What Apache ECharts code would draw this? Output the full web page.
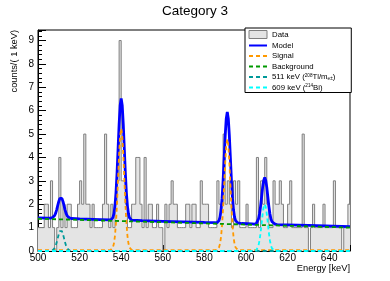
<!DOCTYPE html>
<html><head><meta charset="utf-8">
<script src="https://cdn.jsdelivr.net/npm/echarts@6/dist/echarts.min.js"></script>
<style>html,body{margin:0;padding:0;background:#fff}#c{width:390px;height:281px}</style>
</head><body><div id="c"></div>
<script>
// ---- data ----
const chartTitle = 'Category 3';
const firstBin = 500;          // keV, low edge of first bin
const binWidth = 1;            // keV
const counts = [
  1,1,1,2,2,1,3,1,0,1,
  4,1,2,1,2,2,1,1,1,2,
  3,2,5,2,2,1,2,1,1,1,
  1,2,5,2,1,2,1,2,3,9,
  3,3,2,1,1,2,2,4,4,2,
  1,4,1,2,2,1,1,2,1,1,
  0,2,1,2,3,2,2,1,1,1,
  1,2,2,1,2,2,1,1,3,2,
  2,2,1,1,1,1,3,2,2,5,
  2,3,2,1,3,2,3,1,1,1,
  2,1,1,1,1,4,1,3,2,4,
  2,1,1,3,2,2,3,2,1,1,
  2,3,1,1,1,1,1,5,1,1,
  0,1,2,1,1,1,1,2,1,1,
  1,1,3,1,1,1,0,1,1,2
];
const modelCurve = [
  [500,1.42],[505,1.41],[506,1.405],[507,1.43],[507.5,1.46],[508,1.52],[508.5,1.62],[509,1.77],[509.5,1.95],
  [510,2.12],[510.5,2.25],[511,2.30],[511.5,2.25],[512,2.12],[512.5,1.95],[513,1.76],[513.5,1.61],[514,1.51],
  [515,1.42],[516,1.39],[520,1.37],[530,1.345],[535,1.33],[535.5,1.36],[536,1.43],[536.5,1.60],[537,1.93],
  [537.5,2.50],[538,3.33],[538.5,4.37],[539,5.42],[539.5,6.22],[540,6.52],[540.5,6.22],[541,5.42],[541.5,4.37],
  [542,3.32],[542.5,2.49],[543,1.92],[543.5,1.59],[544,1.42],[544.5,1.35],[545,1.32],[550,1.295],[560,1.27],
  [570,1.245],[580,1.22],[585,1.21],[586,1.20],[586.5,1.23],[587,1.30],[587.5,1.45],[588,1.75],[588.5,2.26],
  [589,3.02],[589.5,3.97],[590,4.93],[590.5,5.66],[591,5.94],[591.5,5.66],[592,4.93],[592.5,3.97],[593,3.02],
  [593.5,2.26],[594,1.75],[594.5,1.45],[595,1.30],[595.5,1.23],[596,1.20],[598,1.175],[603,1.16],[604,1.145],
  [605,1.18],[605.5,1.25],[606,1.37],[606.5,1.59],[607,1.91],[607.5,2.31],[608,2.72],[608.5,3.02],[609,3.14],
  [609.5,3.02],[610,2.72],[610.5,2.31],[611,1.91],[611.5,1.59],[612,1.37],[612.5,1.25],[613,1.18],[614,1.145],
  [615,1.13],[630,1.095],[650,1.04]
];
const signalCurve = [
  [500,0.04],[534,0.04],[535,0.05],[535.5,0.08],[536,0.15],[536.5,0.32],[537,0.65],[537.5,1.22],[538,2.05],
  [538.5,3.09],[539,4.14],[539.5,4.94],[540,5.24],[540.5,4.94],[541,4.14],[541.5,3.09],[542,2.05],[542.5,1.22],
  [543,0.65],[543.5,0.32],[544,0.15],[544.5,0.08],[545,0.05],[546,0.04],[585,0.04],[586,0.05],[586.5,0.08],
  [587,0.15],[587.5,0.30],[588,0.60],[588.5,1.11],[589,1.87],[589.5,2.82],[590,3.78],[590.5,4.51],[591,4.79],
  [591.5,4.51],[592,3.78],[592.5,2.82],[593,1.87],[593.5,1.11],[594,0.60],[594.5,0.30],[595,0.15],[595.5,0.08],
  [596,0.05],[597,0.04],[650,0.04]
];
const backgroundCurve = [[500,1.38],[560,1.23],[600,1.13],[650,1.00]];
const tl208Curve = [
  [500,0],[505,0],[506,0.004],[507,0.026],[507.5,0.06],[508,0.12],[508.5,0.22],[509,0.37],[509.5,0.55],[510,0.72],
  [510.5,0.85],[511,0.90],[511.5,0.85],[512,0.72],[512.5,0.55],[513,0.37],[513.5,0.22],[514,0.12],[514.5,0.06],
  [515,0.026],[516,0.004],[517,0],[650,0]
];
const bi214Curve = [
  [500,0],[603,0],[604,0.005],[605,0.04],[605.5,0.11],[606,0.23],[606.5,0.45],[607,0.77],[607.5,1.17],[608,1.58],
  [608.5,1.88],[609,2.00],[609.5,1.88],[610,1.58],[610.5,1.17],[611,0.77],[611.5,0.45],[612,0.23],[612.5,0.11],
  [613,0.04],[614,0.005],[615,0],[650,0]
];
const xTickLabels = [500,520,540,560,580,600,620,640];
const yTickLabels = [0,1,2,3,4,5,6,7,8,9];
const legendNames = ['Data','Model','Signal','Background','511 keV (208Tl/me±)','609 keV (214Bi)'];
const legendRich = {
  '511 keV (208Tl/me±)': '{t|511 keV (}{sup|208}{t|Tl/m}{sub|e±}{t|)}',
  '609 keV (214Bi)': '{t|609 keV (}{sup|214}{t|Bi)}'
};

// ---- build ----
const histStep = counts.map((c, i) => [firstBin + i * binWidth, c]);
histStep.push([firstBin + counts.length * binWidth, counts[counts.length - 1]]);

const FONT = 'Liberation Sans';
const chart = echarts.init(document.getElementById('c'), null, {renderer: 'canvas'});

function dashLine(name, data, color) {
  return {name, type: 'line', data, symbol: 'none', showSymbol: false, smooth: false,
    lineStyle: {color, width: 1.8, type: [4, 3]}, itemStyle: {color}, z: 4};
}

chart.setOption({
  animation: false,
  backgroundColor: '#fff',
  grid: {left: 38, right: 40, top: 30, bottom: 30, show: true, borderColor: '#000', borderWidth: 1, backgroundColor: 'transparent'},
  xAxis: {
    type: 'value', min: 500, max: 650, interval: 20,
    axisLine: {onZero: false, lineStyle: {color: '#000', width: 1}},
    axisTick: {inside: true, length: 6, lineStyle: {color: '#000'}},
    minorTick: {show: true, splitNumber: 5, length: 3, lineStyle: {color: '#000'}},
    splitLine: {show: false},
    axisLabel: {color: '#000', fontFamily: FONT, fontSize: 10, margin: 2,
      formatter: v => xTickLabels.includes(v) ? String(v) : ''}
  },
  yAxis: {
    type: 'value', min: 0, max: 9.45, interval: 1,
    axisLine: {show: true, onZero: false, lineStyle: {color: '#000', width: 1}},
    axisTick: {show: true, inside: true, length: 8, lineStyle: {color: '#000'}},
    minorTick: {show: true, splitNumber: 5, length: 4, lineStyle: {color: '#000'}},
    splitLine: {show: false},
    axisLabel: {color: '#000', fontFamily: FONT, fontSize: 10, margin: 4,
      formatter: v => yTickLabels.includes(v) ? String(v) : ''}
  },
  legend: {
    orient: 'vertical', left: 245, top: 28,
    backgroundColor: '#fff', borderColor: '#000', borderWidth: 1,
    padding: [2, 16, 1, 3], itemGap: 2.5, itemWidth: 18, itemHeight: 8,
    itemStyle: {opacity: 0},
    textStyle: {fontFamily: FONT, fontSize: 7.8, color: '#000', lineHeight: 8,
      rich: {
        t: {fontFamily: FONT, fontSize: 7.8, color: '#000', lineHeight: 8},
        sup: {fontFamily: FONT, fontSize: 4.6, color: '#000', verticalAlign: 'top', lineHeight: 8},
        sub: {fontFamily: FONT, fontSize: 4.6, color: '#000', verticalAlign: 'bottom', lineHeight: 8}
      }},
    formatter: name => legendRich[name] || name,
    data: [
      {name: legendNames[0], icon: 'rect', itemStyle: {color: '#e4e4e4', borderColor: '#7f7f7f', borderWidth: 1, opacity: 1}},
      legendNames[1], legendNames[2], legendNames[3], legendNames[4], legendNames[5]
    ]
  },
  graphic: [
    {type: 'text', x: 195, y: 11, style: {text: chartTitle, font: '13.5px "Liberation Sans"', fill: '#000', align: 'center', verticalAlign: 'middle'}},
    {type: 'text', x: 350, y: 268, style: {text: 'Energy [keV]', font: '9.3px "Liberation Sans"', fill: '#000', align: 'right', verticalAlign: 'middle'}},
    {type: 'text', x: 14, y: 30, rotation: Math.PI / 2, style: {text: 'counts/( 1 keV)', font: '9.3px "Liberation Sans"', fill: '#000', align: 'right', verticalAlign: 'middle'}}
  ],
  series: [
    {name: legendNames[0], type: 'line', step: 'end', data: histStep, symbol: 'none', showSymbol: false,
      lineStyle: {color: '#7f7f7f', width: 1}, areaStyle: {color: '#e4e4e4', opacity: 1},
      itemStyle: {color: '#e4e4e4'}, z: 1},
    {name: legendNames[1], type: 'line', data: modelCurve, symbol: 'none', showSymbol: false,
      lineStyle: {color: '#0000ff', width: 2.8}, itemStyle: {color: '#0000ff'}, z: 3},
    dashLine(legendNames[2], signalCurve, '#ff9900'),
    dashLine(legendNames[3], backgroundCurve, '#009900'),
    dashLine(legendNames[4], tl208Curve, '#009999'),
    dashLine(legendNames[5], bi214Curve, '#00ffff')
  ]
});
</script>
</body></html>
